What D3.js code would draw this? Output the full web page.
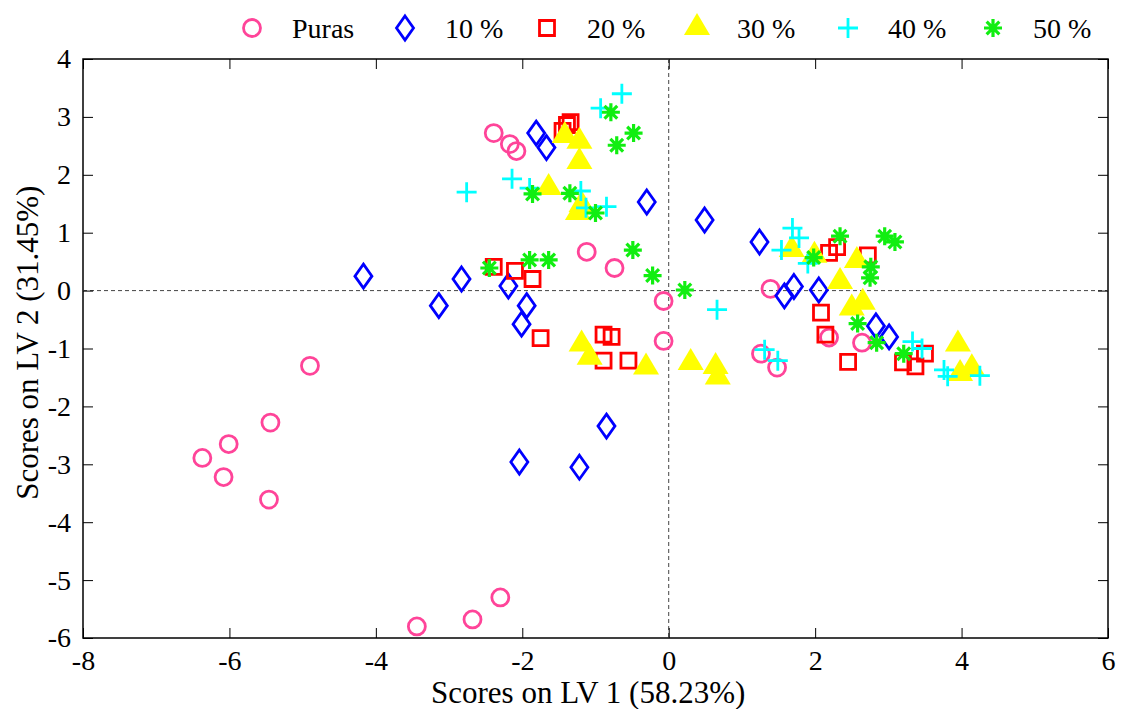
<!doctype html>
<html>
  <head>
    <meta charset="utf-8">
    <title>Scores LV1 vs LV2</title>
    <script src="https://cdn.jsdelivr.net/npm/d3@7"></script>
    <style>
      body { margin: 0; background: #fff; }
    </style>
  </head>
  <body>
    <script>
      // scores: [LV1, LV2]
      const puras = [
        [-2.39, 2.72], [-2.17, 2.53], [-2.08, 2.41], [-1.12, 0.67], [-0.74, 0.39],
        [-0.07, -0.18], [-0.07, -0.87], [-4.90, -1.30], [-5.44, -2.28], [-6.01, -2.65],
        [-6.37, -2.89], [-6.08, -3.22], [-5.46, -3.61], [-2.30, -5.30], [-2.68, -5.68],
        [-3.44, -5.80], [1.39, 0.03], [1.26, -1.09], [1.48, -1.33], [2.19, -0.81], [2.64, -0.90]
      ];
      const p10 = [
        [-1.81, 2.72], [-1.67, 2.47], [-0.30, 1.53], [0.49, 1.22], [-4.17, 0.25],
        [-2.83, 0.20], [-2.19, 0.08], [-3.14, -0.26], [-1.94, -0.26], [-2.01, -0.58],
        [-2.04, -2.96], [-1.22, -3.05], [-0.85, -2.34], [1.24, 0.84], [1.58, -0.09],
        [1.71, 0.07], [2.05, 0.01], [2.83, -0.61], [3.01, -0.80]
      ];
      const p20 = [
        [-1.45, 2.76], [-1.39, 2.86], [-1.34, 2.91], [-2.39, 0.41], [-2.10, 0.34],
        [-1.86, 0.20], [-1.75, -0.82], [-0.89, -0.76], [-0.78, -0.80], [-0.89, -1.21],
        [-0.55, -1.21], [2.30, 0.75], [2.19, 0.65], [2.72, 0.61], [2.08, -0.38],
        [2.14, -0.76], [2.45, -1.23], [3.20, -1.24], [3.37, -1.31], [3.50, -1.09]
      ];
      const p30 = [
        [-1.42, 2.67], [-1.22, 2.57], [-1.22, 2.22], [-1.64, 1.77], [-1.24, 1.34],
        [-1.19, 1.48], [-1.19, -0.93], [-1.08, -1.16], [-0.31, -1.33], [0.30, -1.25],
        [0.64, -1.32], [0.67, -1.50], [1.68, 0.70], [1.99, 0.60], [2.57, 0.51],
        [2.34, 0.15], [2.50, -0.31], [2.65, -0.21], [3.95, -0.93], [3.98, -1.44], [4.14, -1.34]
      ];
      const p40 = [
        [-0.64, 3.40], [-0.93, 3.15], [-2.76, 1.70], [-2.14, 1.93], [-1.90, 1.77],
        [-1.20, 1.72], [-1.13, 1.43], [-0.85, 1.45], [1.69, 1.08], [1.78, 0.91],
        [1.54, 0.70], [1.90, 0.47], [0.66, -0.33], [1.31, -1.02], [1.49, -1.21],
        [3.33, -0.88], [3.46, -1.00], [3.76, -1.37], [3.81, -1.48], [4.25, -1.47]
      ];
      const p50 = [
        [-0.79, 3.08], [-0.48, 2.72], [-0.71, 2.51], [-1.86, 1.67], [-1.35, 1.68],
        [-1.00, 1.34], [-2.45, 0.39], [-1.90, 0.53], [-1.64, 0.53], [-0.49, 0.70],
        [-0.22, 0.26], [0.22, 0.01], [2.34, 0.94], [1.98, 0.57], [2.95, 0.94],
        [3.09, 0.84], [2.76, 0.41], [2.75, 0.22], [2.58, -0.57], [2.84, -0.90], [3.21, -1.09]
      ];

      const seriesNames = ['Puras', '10 %', '20 %', '30 %', '40 %', '50 %'];
      const xTicks = [-8, -6, -4, -2, 0, 2, 4, 6];
      const yTicks = [4, 3, 2, 1, 0, -1, -2, -3, -4, -5, -6];

      const width = 1124, height = 709;
      const margin = {top: 59, right: 16, bottom: 71, left: 83};
      const w = width - margin.left - margin.right;
      const h = height - margin.top - margin.bottom;
      const serif = 'Liberation Serif';

      const svg = d3.select('body').append('svg')
          .attr('width', width)
          .attr('height', height)
          .attr('font-family', serif);

      const x = d3.scaleLinear().domain([-8, 6]).range([0, w]);
      const y = d3.scaleLinear().domain([-6, 4]).range([h, 0]);

      const g = svg.append('g')
          .attr('transform', `translate(${margin.left}, ${margin.top})`);

      // marker drawing, one style per series
      const styles = [
        {data: puras, color: '#ff4499', kind: 'circle'},
        {data: p10, color: '#0000ff', kind: 'diamond'},
        {data: p20, color: '#ff0000', kind: 'square'},
        {data: p30, color: '#ffff00', kind: 'triangle'},
        {data: p40, color: '#00ffff', kind: 'plus'},
        {data: p50, color: '#11ee11', kind: 'star'}
      ];

      function markerPath(kind) {
        switch (kind) {
          case 'circle': return d3.arc()({innerRadius: 0, outerRadius: 8.5, startAngle: 0, endAngle: 2 * Math.PI});
          case 'diamond': return 'M0,-12L8.5,0L0,12L-8.5,0Z';
          case 'square': return 'M-7.5,-7.5H7.5V7.5H-7.5Z';
          case 'triangle': return 'M0,-15L13,7L-13,7Z';
          case 'plus': return 'M-10,0H10M0,-10V10';
          case 'star': {
            let p = '';
            for (let k = 0; k < 4; k++) {
              const a = k * Math.PI / 4;
              const dx = 9 * Math.sin(a), dy = 9 * Math.cos(a);
              p += `M${-dx},${-dy}L${dx},${dy}`;
            }
            return p;
          }
        }
      }

      function drawMarker(sel, s) {
        const path = markerPath(s.kind);
        if (s.kind === 'triangle') {
          sel.append('path').attr('d', path).attr('fill', s.color).attr('stroke', 'none');
        } else {
          sel.append('path').attr('d', path)
              .attr('fill', 'none')
              .attr('stroke', s.color)
              .attr('stroke-width', s.kind === 'star' ? 3.2 : 2.8);
        }
      }

      // frame
      g.append('rect')
          .attr('width', w).attr('height', h)
          .attr('fill', 'none').attr('stroke', '#000').attr('stroke-width', 1.5);

      // zero lines
      g.append('line')
          .attr('x1', x(0)).attr('x2', x(0)).attr('y1', 0).attr('y2', h)
          .attr('stroke', '#444').attr('stroke-dasharray', '4,3');
      g.append('line')
          .attr('x1', 0).attr('x2', w).attr('y1', y(0)).attr('y2', y(0))
          .attr('stroke', '#444').attr('stroke-dasharray', '4,3');

      // axes with inward ticks
      const fmt = d => String(d);
      const xAxis = g.append('g')
          .attr('transform', `translate(0, ${h})`)
          .call(d3.axisBottom(x).tickValues(xTicks).tickFormat(fmt)
            .tickSizeInner(-10).tickSizeOuter(0).tickPadding(12));
      const yAxis = g.append('g')
          .call(d3.axisLeft(y).tickValues(yTicks).tickFormat(fmt)
            .tickSizeInner(-10).tickSizeOuter(0).tickPadding(12));
      g.append('g')
          .call(d3.axisTop(x).tickValues(xTicks).tickSizeInner(-10).tickSizeOuter(0).tickFormat(''));
      g.append('g')
          .attr('transform', `translate(${w}, 0)`)
          .call(d3.axisRight(y).tickValues(yTicks).tickSizeInner(-10).tickSizeOuter(0).tickFormat(''));
      g.selectAll('.domain').remove();
      g.selectAll('.tick line').attr('stroke', '#000');
      [xAxis, yAxis].forEach(a => a.attr('font-family', serif).attr('font-size', 28)
          .selectAll('text').attr('fill', '#000'));
      xAxis.selectAll('text').attr('dy', '0.71em');

      // points
      styles.forEach(s => {
        g.append('g').selectAll('g')
          .data(s.data)
          .enter().append('g')
            .attr('transform', d => `translate(${x(d[0])}, ${y(d[1])})`)
            .each(function () { drawMarker(d3.select(this), s); });
      });

      // axis labels
      svg.append('text')
          .attr('x', margin.left + x(-1.1)).attr('y', 703)
          .attr('text-anchor', 'middle')
          .attr('font-family', serif)
          .attr('font-size', 31)
          .text('Scores on LV 1 (58.23%)');
      svg.append('text')
          .attr('transform', `translate(38, ${margin.top + y(-0.9)}) rotate(-90)`)
          .attr('text-anchor', 'middle')
          .attr('font-family', serif)
          .attr('font-size', 31)
          .text('Scores on LV 2 (31.45%)');

      // legend
      const legendX = [252, 405, 547, 697, 848, 993];
      const legend = svg.append('g');
      styles.forEach((s, i) => {
        const item = legend.append('g').attr('transform', `translate(${legendX[i]}, 28)`);
        drawMarker(item, s);
        item.append('text')
            .attr('x', 40).attr('y', 10)
            .attr('font-family', serif)
            .attr('font-size', 28)
            .text(seriesNames[i]);
      });
    </script>
  </body>
</html>
